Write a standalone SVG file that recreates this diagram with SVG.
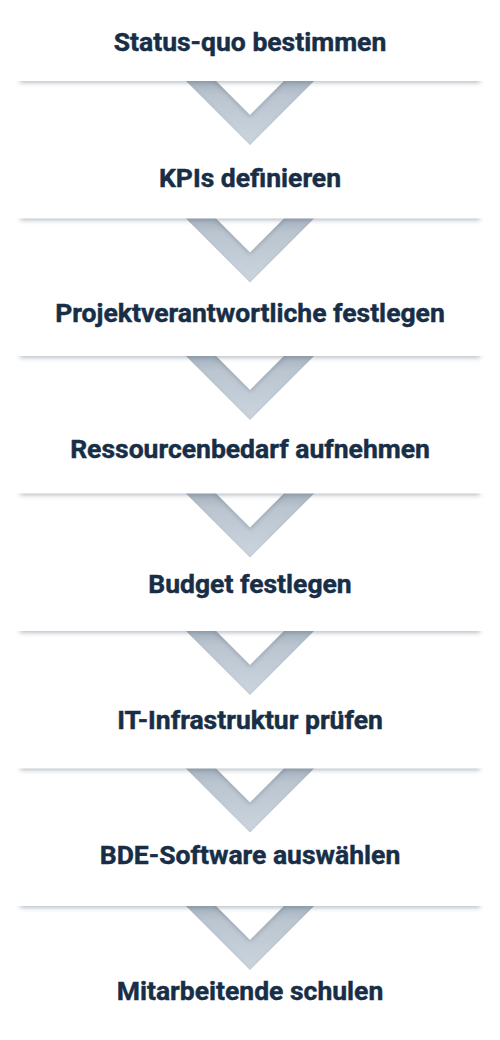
<svg xmlns="http://www.w3.org/2000/svg" width="500" height="1040" viewBox="0 0 500 1040">
  <defs>
    <linearGradient id="chevGrad" x1="0" y1="0" x2="0" y2="1">
      <stop offset="0" stop-color="#a3afbc"/>
      <stop offset="0.25" stop-color="#bac5d0"/>
      <stop offset="1" stop-color="#ccd5de"/>
    </linearGradient>
    <filter id="inset" x="-10%" y="-10%" width="120%" height="120%">
      <feComponentTransfer in="SourceAlpha"><feFuncA type="table" tableValues="1 0"/></feComponentTransfer>
      <feGaussianBlur stdDeviation="2"/>
      <feOffset dx="0" dy="2" result="off"/>
      <feFlood flood-color="#5d6b7a" flood-opacity="0.45"/>
      <feComposite in2="off" operator="in"/>
      <feComposite in2="SourceAlpha" operator="in" result="sh"/>
      <feMerge><feMergeNode in="SourceGraphic"/><feMergeNode in="sh"/></feMerge>
    </filter>
    <filter id="blur" x="-5%" y="-200%" width="110%" height="500%">
      <feGaussianBlur stdDeviation="2.4"/>
    </filter>
  </defs>
  <style>
    .chev { fill: url(#chevGrad); filter: url(#inset); }
    .shadow { fill: #7d8a98; opacity: 0.6; filter: url(#blur); }
    .card { fill: #ffffff; }
    .label { font-family: Roboto, "Liberation Sans", sans-serif; font-weight: 700; font-size: 26.5px; fill: #172e46; stroke: #172e46; stroke-width: 0.45; text-anchor: middle; }
  </style>
  <rect x="0" y="0" width="500" height="1040" fill="#ffffff"/>

  <g id="connectors">
    <path class="chev" d="M184,79 L214,79 L250,115 L286,79 L316,79 L250,145 Z"/>
    <path class="chev" d="M184,216.5 L214,216.5 L250,252.5 L286,216.5 L316,216.5 L250,282.5 Z"/>
    <path class="chev" d="M184,354 L214,354 L250,390 L286,354 L316,354 L250,420 Z"/>
    <path class="chev" d="M184,491.5 L214,491.5 L250,527.5 L286,491.5 L316,491.5 L250,557.5 Z"/>
    <path class="chev" d="M184,629 L214,629 L250,665 L286,629 L316,629 L250,695 Z"/>
    <path class="chev" d="M184,766.5 L214,766.5 L250,802.5 L286,766.5 L316,766.5 L250,832.5 Z"/>
    <path class="chev" d="M184,904 L214,904 L250,940 L286,904 L316,904 L250,970 Z"/>
  </g>

  <g id="step1">
    <rect class="shadow" x="20" y="76" width="460" height="6.5"/>
    <rect class="card" x="0" y="15" width="500" height="66"/>
    <text class="label" x="250" y="51">Status-quo bestimmen</text>
  </g>
  <g id="step2">
    <rect class="shadow" x="20" y="213.5" width="460" height="6.5"/>
    <rect class="card" x="0" y="155" width="500" height="63.5"/>
    <text class="label" x="250" y="186.5">KPIs definieren</text>
  </g>
  <g id="step3">
    <rect class="shadow" x="20" y="351" width="460" height="6.5"/>
    <rect class="card" x="0" y="292" width="500" height="64"/>
    <text class="label" x="250" y="322">Projektverantwortliche festlegen</text>
  </g>
  <g id="step4">
    <rect class="shadow" x="20" y="488.5" width="460" height="6.5"/>
    <rect class="card" x="0" y="430" width="500" height="63.5"/>
    <text class="label" x="250" y="457.5">Ressourcenbedarf aufnehmen</text>
  </g>
  <g id="step5">
    <rect class="shadow" x="20" y="626" width="460" height="6.5"/>
    <rect class="card" x="0" y="567" width="500" height="64"/>
    <text class="label" x="250" y="593">Budget festlegen</text>
  </g>
  <g id="step6">
    <rect class="shadow" x="20" y="763.5" width="460" height="6.5"/>
    <rect class="card" x="0" y="705" width="500" height="63.5"/>
    <text class="label" x="250" y="728.5">IT-Infrastruktur prüfen</text>
  </g>
  <g id="step7">
    <rect class="shadow" x="20" y="901" width="460" height="6.5"/>
    <rect class="card" x="0" y="842" width="500" height="64"/>
    <text class="label" x="250" y="864">BDE-Software auswählen</text>
  </g>
  <g id="step8">
    <text class="label" x="250" y="999.5">Mitarbeitende schulen</text>
  </g>
</svg>
